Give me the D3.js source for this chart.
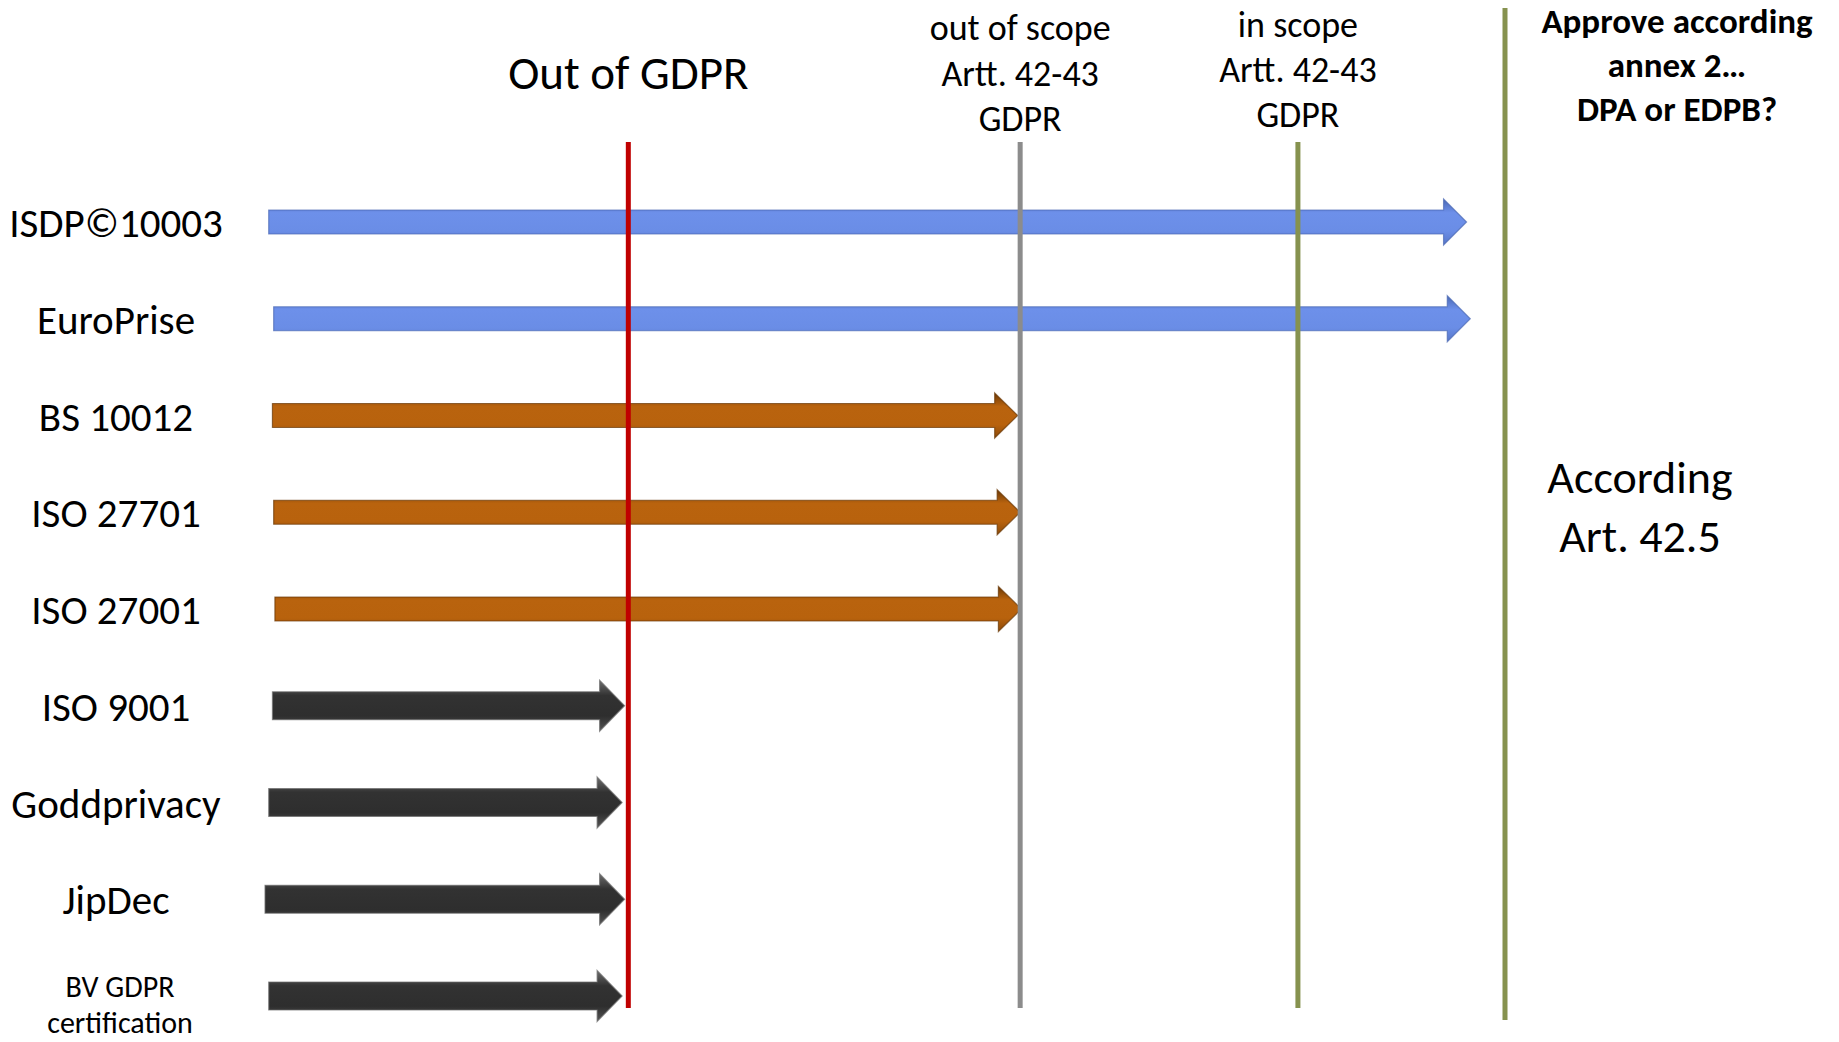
<!DOCTYPE html>
<html>
<head>
<meta charset="utf-8">
<script src="https://cdn.jsdelivr.net/npm/d3@7"></script>
<style>
  body { margin: 0; background: #fff; }
  text { font-family: Carlito, Calibri, Lato, sans-serif; fill: #000; }
</style>
</head>
<body>
<div id="chart"></div>
<script>
// certification schemes, top to bottom
var certs = ["ISDP©10003", "EuroPrise", "BS 10012", "ISO 27701", "ISO 27001",
  "ISO 9001", "Goddprivacy", "JipDec", "BV GDPR certification"];
// where each arrow starts / ends (0 = left edge, 100 = Art. 42.5 line)
var startVals = [0.3, 0.7, 0.6, 0.7, 0.8, 0.6, 0.3, 0, 0.3];
var endVals = [96.9, 97.2, 60.7, 60.9, 61.0, 29.0, 28.8, 29.0, 28.8];
var tiers = ["approve", "approve", "outScope", "outScope", "outScope",
  "outGdpr", "outGdpr", "outGdpr", "outGdpr"];

// threshold lines
var thresholds = ["Out of GDPR", "out of scope", "in scope", "Art. 42.5"];
var thresholdVals = [29.3, 60.9, 83.3, 100];

var svgWidth = 1839;
var svgHeight = 1042;

var svg = d3.select("#chart")
  .append("svg")
  .attr("width", svgWidth)
  .attr("height", svgHeight);

var xScale = d3.scaleLinear().domain([0, 100]).range([265, 1505]);
var yScale = d3.scalePoint().domain(certs).range([222, 996]);

var tierColor = d3.scaleOrdinal()
  .domain(["approve", "outScope", "outGdpr"])
  .range([["#4a68b4", "#6d90ea", "#6a8de6", "#5877c8"],
          ["#6a3806", "#b9630e", "#b8620d", "#8c4b0a"],
          ["#6e6e6e", "#323232", "#2e2e2e", "#555555"]]);
var tierShape = d3.scaleOrdinal()
  .domain(["approve", "outScope", "outGdpr"])
  .range([{ shaft: 24, head: 46, len: 23 },
          { shaft: 24, head: 45, len: 23 },
          { shaft: 28, head: 51, len: 25 }]);

// gradients for the bevel look
var defs = svg.append("defs");
tierColor.domain().forEach(function (t) {
  var c = tierColor(t);
  var g = defs.append("linearGradient")
    .attr("id", "grad-" + t)
    .attr("x1", 0).attr("x2", 0).attr("y1", 0).attr("y2", 1);
  g.append("stop").attr("offset", "0%").attr("stop-color", c[0]);
  g.append("stop").attr("offset", "30%").attr("stop-color", c[1]);
  g.append("stop").attr("offset", "70%").attr("stop-color", c[2]);
  g.append("stop").attr("offset", "100%").attr("stop-color", c[3]);
});

var rows = certs.map(function (name, i) {
  return { name: name, start: startVals[i], end: endVals[i], tier: tiers[i] };
});

function arrowPath(d) {
  var s = tierShape(d.tier);
  var x0 = xScale(d.start), x1 = xScale(d.end), y = yScale(d.name);
  var xb = x1 - s.len;
  return "M" + x0 + "," + (y - s.shaft / 2) +
    "L" + xb + "," + (y - s.shaft / 2) +
    "L" + xb + "," + (y - s.head / 2) +
    "L" + x1 + "," + y +
    "L" + xb + "," + (y + s.head / 2) +
    "L" + xb + "," + (y + s.shaft / 2) +
    "L" + x0 + "," + (y + s.shaft / 2) + "Z";
}

// arrows
svg.selectAll(".arrow")
  .data(rows)
  .enter()
  .append("path")
  .attr("class", "arrow")
  .attr("d", arrowPath)
  .attr("fill", d => "url(#grad-" + d.tier + ")")
  .attr("stroke", d => tierColor(d.tier)[0])
  .attr("stroke-width", 1.2)
  .attr("stroke-opacity", 0.7);

// vertical lines (drawn over the arrows)
var lineColor = ["#c00000", "#8c8c8c", "#86924f", "#86924f"];
var lineTop = [142, 142, 142, 8];
var lineBottom = [1008, 1008, 1008, 1020];
svg.selectAll(".vline")
  .data(thresholds)
  .enter()
  .append("line")
  .attr("class", "vline")
  .attr("x1", (d, i) => xScale(thresholdVals[i]))
  .attr("x2", (d, i) => xScale(thresholdVals[i]))
  .attr("y1", (d, i) => lineTop[i])
  .attr("y2", (d, i) => lineBottom[i])
  .attr("stroke", (d, i) => lineColor[i])
  .attr("stroke-width", 5);

// row labels
svg.selectAll(".label")
  .data(rows.filter(d => d.name.indexOf(" certification") < 0))
  .enter()
  .append("text")
  .attr("class", "label")
  .attr("x", 116)
  .attr("y", d => yScale(d.name) + 15)
  .attr("text-anchor", "middle")
  .style("font-size", "41px")
  .text(d => d.name);

var bv = svg.append("text")
  .attr("x", 120)
  .attr("y", yScale("BV GDPR certification") + 1)
  .attr("text-anchor", "middle")
  .style("font-size", "30px");
bv.append("tspan").attr("x", 120).text("BV GDPR");
bv.append("tspan").attr("x", 120).attr("dy", 36).text("certification");

// headers
svg.append("text")
  .attr("x", xScale(thresholdVals[0]))
  .attr("y", 89)
  .attr("text-anchor", "middle")
  .style("font-size", "47px")
  .text("Out of GDPR");

function header(lines, x, y0, size, gap, bold) {
  var t = svg.append("text")
    .attr("text-anchor", "middle")
    .attr("y", y0)
    .style("font-size", size + "px")
    .style("font-weight", bold ? "bold" : "normal");
  lines.forEach(function (l, i) {
    t.append("tspan").attr("x", x).attr("dy", i === 0 ? 0 : gap).text(l);
  });
}

header(["out of scope", "Artt. 42-43", "GDPR"], xScale(thresholdVals[1]), 40, 36, 45.5);
header(["in scope", "Artt. 42-43", "GDPR"], xScale(thresholdVals[2]), 37, 36, 45);
header(["Approve according", "annex 2…", "DPA or EDPB?"], 1677, 33, 35, 44, true);
header(["According", "Art. 42.5"], 1640, 493, 46, 59);
</script>
</body>
</html>
